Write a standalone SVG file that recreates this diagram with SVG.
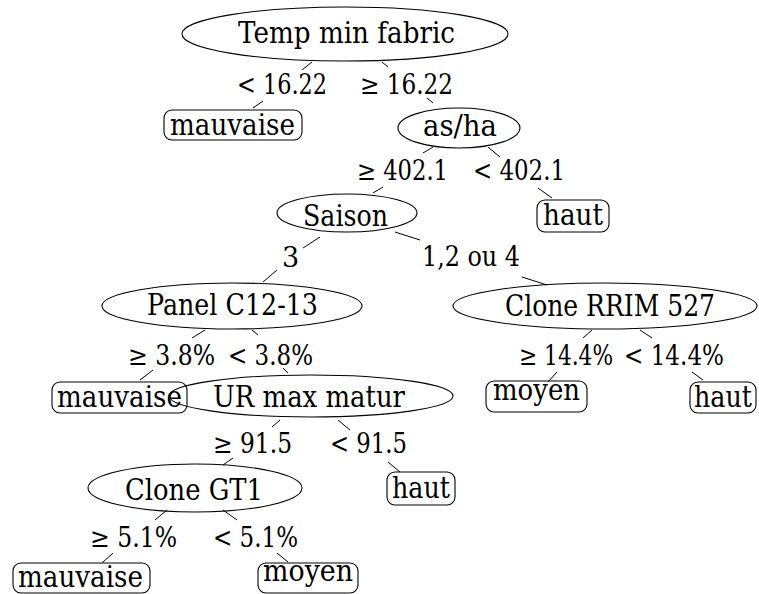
<svg xmlns="http://www.w3.org/2000/svg" width="759" height="594" viewBox="0 0 759 594">
<style>
.e{fill:none;stroke:#000;stroke-width:1.1}
.b{fill:none;stroke:#000;stroke-width:1.1}
.t{font-size:29px;fill:#000;text-anchor:middle}
.l{font-size:27px;fill:#000;text-anchor:middle}
#edges line{stroke:#000;stroke-width:1}
</style>
<rect width="759" height="594" fill="#fff"/>
<g id="edges">
<line x1="302" y1="70" x2="312" y2="62"/>
<line x1="253" y1="108" x2="263" y2="101"/>
<line x1="382" y1="62" x2="388" y2="67"/>
<line x1="427" y1="98" x2="433" y2="103"/>
<line x1="423" y1="153" x2="433" y2="147"/>
<line x1="373" y1="193" x2="383" y2="187"/>
<line x1="488" y1="147" x2="500" y2="157"/>
<line x1="538" y1="188" x2="552" y2="198"/>
<line x1="320" y1="237" x2="303" y2="248"/>
<line x1="277" y1="270" x2="263" y2="282"/>
<line x1="395" y1="232" x2="420" y2="240"/>
<line x1="522" y1="277" x2="547" y2="285"/>
<line x1="205" y1="330" x2="192" y2="338"/>
<line x1="153" y1="370" x2="140" y2="380"/>
<line x1="252" y1="330" x2="258" y2="335"/>
<line x1="283" y1="368" x2="288" y2="373"/>
<line x1="592" y1="330" x2="583" y2="338"/>
<line x1="557" y1="372" x2="548" y2="382"/>
<line x1="640" y1="330" x2="652" y2="338"/>
<line x1="692" y1="372" x2="703" y2="380"/>
<line x1="280" y1="420" x2="272" y2="427"/>
<line x1="233" y1="458" x2="223" y2="465"/>
<line x1="338" y1="420" x2="350" y2="430"/>
<line x1="388" y1="462" x2="400" y2="472"/>
<line x1="167" y1="510" x2="155" y2="520"/>
<line x1="113" y1="553" x2="102" y2="563"/>
<line x1="223" y1="510" x2="237" y2="520"/>
<line x1="277" y1="553" x2="288" y2="562"/>
</g>
<g id="labels" font-family="DejaVu Serif, serif">
<text class="l" x="282" y="94" textLength="90" lengthAdjust="spacingAndGlyphs">&lt; 16.22</text>
<text class="l" x="406.5" y="94" textLength="93" lengthAdjust="spacingAndGlyphs">≥ 16.22</text>
<text class="l" x="402.5" y="180" textLength="91" lengthAdjust="spacingAndGlyphs">≥ 402.1</text>
<text class="l" x="519" y="180" textLength="92" lengthAdjust="spacingAndGlyphs">&lt; 402.1</text>
<text class="l" x="290.5" y="267">3</text>
<text class="l" x="471" y="266" textLength="98" lengthAdjust="spacingAndGlyphs">1,2 ou 4</text>
<text class="l" x="171.5" y="365" textLength="87" lengthAdjust="spacingAndGlyphs">≥ 3.8%</text>
<text class="l" x="270.5" y="365" textLength="85" lengthAdjust="spacingAndGlyphs">&lt; 3.8%</text>
<text class="l" x="566" y="365" textLength="94" lengthAdjust="spacingAndGlyphs">≥ 14.4%</text>
<text class="l" x="674" y="365" textLength="100" lengthAdjust="spacingAndGlyphs">&lt; 14.4%</text>
<text class="l" x="252.5" y="453" textLength="79" lengthAdjust="spacingAndGlyphs">≥ 91.5</text>
<text class="l" x="368.5" y="453" textLength="77" lengthAdjust="spacingAndGlyphs">&lt; 91.5</text>
<text class="l" x="133.5" y="547" textLength="87" lengthAdjust="spacingAndGlyphs">≥ 5.1%</text>
<text class="l" x="255.5" y="547" textLength="85" lengthAdjust="spacingAndGlyphs">&lt; 5.1%</text>
</g>
<g id="nodes" font-family="DejaVu Serif, serif">
<g id="n-temp"><ellipse class="e" cx="345" cy="34" rx="163" ry="27"/><text class="t" x="346.5" y="43" textLength="217" lengthAdjust="spacingAndGlyphs">Temp min fabric</text></g>
<g id="n-mauvaise1"><rect class="b" x="164" y="110" width="138" height="30" rx="8"/><text class="t" x="232.5" y="135" textLength="125" lengthAdjust="spacingAndGlyphs">mauvaise</text></g>
<g id="n-asha"><ellipse class="e" cx="459" cy="128" rx="61" ry="20"/><text class="t" x="460" y="136" textLength="74" lengthAdjust="spacingAndGlyphs">as/ha</text></g>
<g id="n-haut1"><rect class="b" x="537" y="200" width="72" height="32" rx="8"/><text class="t" x="573" y="225" textLength="60" lengthAdjust="spacingAndGlyphs">haut</text></g>
<g id="n-saison"><ellipse class="e" cx="347" cy="213" rx="70" ry="19"/><text class="t" x="345.5" y="226" textLength="85" lengthAdjust="spacingAndGlyphs">Saison</text></g>
<g id="n-panel"><ellipse class="e" cx="232" cy="306" rx="130" ry="23"/><text class="t" x="232.5" y="315" textLength="171" lengthAdjust="spacingAndGlyphs">Panel C12-13</text></g>
<g id="n-rrim"><ellipse class="e" cx="605" cy="306" rx="152" ry="23"/><text class="t" x="610" y="316" textLength="210" lengthAdjust="spacingAndGlyphs">Clone RRIM 527</text></g>
<g id="n-mauvaise2"><rect class="b" x="52" y="382" width="135" height="31" rx="8"/><text class="t" x="119.5" y="407" textLength="125" lengthAdjust="spacingAndGlyphs">mauvaise</text></g>
<g id="n-ur"><ellipse class="e" cx="311" cy="396" rx="142" ry="21"/><text class="t" x="309" y="407" textLength="192" lengthAdjust="spacingAndGlyphs">UR max matur</text></g>
<g id="n-moyen1"><rect class="b" x="486" y="381" width="101" height="31" rx="8"/><text class="t" x="536.5" y="400" textLength="87" lengthAdjust="spacingAndGlyphs">moyen</text></g>
<g id="n-haut2"><rect class="b" x="690" y="382" width="66" height="31" rx="8"/><text class="t" x="723" y="407" textLength="58" lengthAdjust="spacingAndGlyphs">haut</text></g>
<g id="n-haut3"><rect class="b" x="387" y="472" width="68" height="33" rx="8"/><text class="t" x="421" y="498" textLength="58" lengthAdjust="spacingAndGlyphs">haut</text></g>
<g id="n-gt1"><ellipse class="e" cx="195" cy="488" rx="107" ry="24"/><text class="t" x="194" y="500" textLength="138" lengthAdjust="spacingAndGlyphs">Clone GT1</text></g>
<g id="n-mauvaise3"><rect class="b" x="13" y="563" width="137" height="30" rx="8"/><text class="t" x="80.5" y="587" textLength="125" lengthAdjust="spacingAndGlyphs">mauvaise</text></g>
<g id="n-moyen2"><rect class="b" x="258" y="563" width="100" height="30" rx="8"/><text class="t" x="308" y="581" textLength="90" lengthAdjust="spacingAndGlyphs">moyen</text></g>
</g>
</svg>
